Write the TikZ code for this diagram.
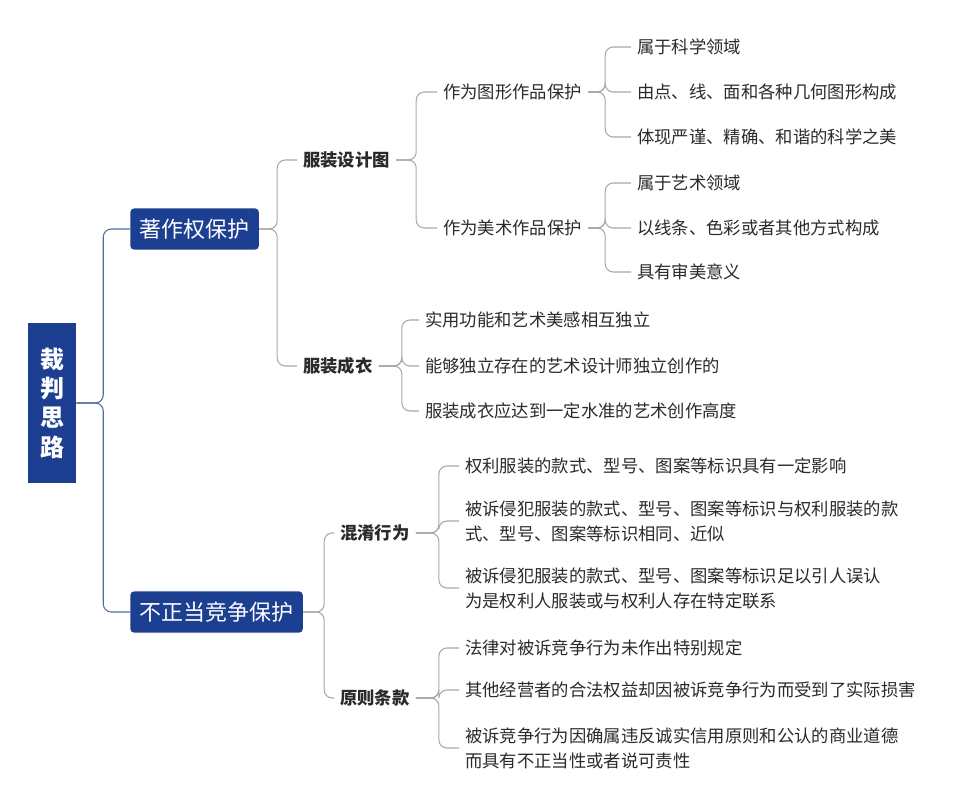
\documentclass[tikz,border=0pt]{standalone}
\usepackage{fontspec}
\setmainfont{Noto Sans CJK SC}
\definecolor{boxblue}{HTML}{1C3F91}
\definecolor{rootline}{HTML}{4F6F9C}
\definecolor{linegrey}{HTML}{A8A8A8}
\definecolor{txt}{HTML}{2A2A2A}
\tikzset{
  rootbox/.style={fill=boxblue,text=white,font=\fontsize{18}{22}\selectfont\bfseries,align=center,minimum width=36pt,minimum height=120pt,inner sep=0pt},
  mainbox/.style={fill=boxblue,text=white,rounded corners=3pt,font=\fontsize{16.5}{20}\selectfont,minimum height=31pt,inner xsep=7pt},
  subitem/.style={anchor=west,text=txt,font=\fontsize{13}{18}\selectfont\bfseries,inner xsep=4.5pt,inner ysep=2pt},
  leaf/.style={anchor=west,text=txt,font=\fontsize{13}{18.75}\selectfont,align=left,inner xsep=4.5pt,inner ysep=2pt},
  bluelink/.style={draw=rootline,line width=0.8pt,rounded corners=6pt},
  greylink/.style={draw=linegrey,line width=0.8pt,rounded corners=6pt},
}
\begin{document}
\begin{tikzpicture}[x=0.75pt,y=0.75pt,yscale=-1,xscale=1]
\useasboundingbox (0,0) rectangle (960,807);

% root and main branches
\node[rootbox] (root) at (52,403) {裁\\判\\思\\路};
\node[mainbox,anchor=west] (copy) at (130,229) {著作权保护};
\node[mainbox,anchor=west] (comp) at (130,612) {不正当竞争保护};

\draw[bluelink] (root.east) -- ++(27,0) |- (copy.west);
\draw[bluelink] (root.east) -- ++(27,0) |- (comp.west);

% copyright
\node[subitem] (design) at (297,160) {服装设计图};
\node[subitem] (cloth) at (297,366) {服装成衣};
\foreach \c in {design,cloth}
  \draw[greylink] (copy.east) -- ++(18,0) |- (\c.west);

\node[leaf] (graph) at (437,92) {作为图形作品保护};
\node[leaf] (art) at (437,228) {作为美术作品保护};
\foreach \c in {graph,art}
  \draw[greylink] (design.east) -- ++(20,0) |- (\c.west);

\node[leaf] (g1) at (631,47) {属于科学领域};
\node[leaf] (g2) at (631,92) {由点、线、面和各种几何图形构成};
\node[leaf] (g3) at (631,137) {体现严谨、精确、和谐的科学之美};
\foreach \c in {g1,g2,g3}
  \draw[greylink] (graph.east) -- ++(17,0) |- (\c.west);

\node[leaf] (a1) at (631,183) {属于艺术领域};
\node[leaf] (a2) at (631,228) {以线条、色彩或者其他方式构成};
\node[leaf] (a3) at (631,272) {具有审美意义};
\foreach \c in {a1,a2,a3}
  \draw[greylink] (art.east) -- ++(17,0) |- (\c.west);

\node[leaf] (c1) at (419,320) {实用功能和艺术美感相互独立};
\node[leaf] (c2) at (419,366) {能够独立存在的艺术设计师独立创作的};
\node[leaf] (c3) at (419,411) {服装成衣应达到一定水准的艺术创作高度};
\foreach \c in {c1,c2,c3}
  \draw[greylink] (cloth.east) -- ++(23,0) |- (\c.west);

% unfair competition
\node[subitem] (confuse) at (334,533) {混淆行为};
\node[subitem] (rule) at (334,698) {原则条款};
\foreach \c in {confuse,rule}
  \draw[greylink] (comp.east) -- ++(21,0) |- (\c.west);

\node[leaf] (m1) at (459,466) {权利服装的款式、型号、图案等标识具有一定影响};
\node[leaf] (m2) at (459,521) {被诉侵犯服装的款式、型号、图案等标识与权利服装的款\\式、型号、图案等标识相同、近似};
\node[leaf] (m3) at (459,588) {被诉侵犯服装的款式、型号、图案等标识足以引人误认\\为是权利人服装或与权利人存在特定联系};
\foreach \c in {m1,m2,m3}
  \draw[greylink] (confuse.east) -- ++(23,0) |- (\c.west);

\node[leaf] (r1) at (459,648) {法律对被诉竞争行为未作出特别规定};
\node[leaf] (r2) at (459,690) {其他经营者的合法权益却因被诉竞争行为而受到了实际损害};
\node[leaf] (r3) at (459,748) {被诉竞争行为因确属违反诚实信用原则和公认的商业道德\\而具有不正当性或者说可责性};
\foreach \c in {r1,r2,r3}
  \draw[greylink] (rule.east) -- ++(23,0) |- (\c.west);

\end{tikzpicture}
\end{document}
